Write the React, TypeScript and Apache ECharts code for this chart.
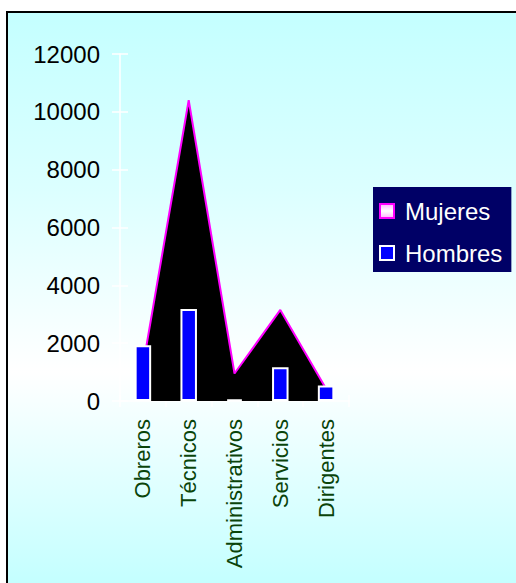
import React, { useEffect, useRef } from "react";
import * as echarts from "echarts";

const categories = ["Obreros", "Técnicos", "Administrativos", "Servicios", "Dirigentes"];
const mujeres = [1200, 10400, 950, 3150, 420];
const hombres = [1930, 3180, 60, 1170, 540];
const yMin = 0;
const yMax = 12000;
const yInterval = 2000;

const FONT = "'Liberation Sans', Arial, sans-serif";

export default function App() {
  const ref = useRef<HTMLDivElement>(null);
  useEffect(() => {
    if (!ref.current) return;
    const chart = echarts.init(ref.current, undefined, { renderer: "svg" });
    const option: any = {
      animation: false,
      backgroundColor: "#ffffff",
      graphic: [
        {
          type: "rect",
          z: -10,
          silent: true,
          shape: { x: 7, y: 12, width: 540, height: 600 },
          style: {
            fill: new echarts.graphic.LinearGradient(0, 0, 0, 1, [
              { offset: 0, color: "#c4ffff" },
              { offset: 0.3, color: "#dcffff" },
              { offset: 0.6, color: "#ffffff" },
              { offset: 0.95, color: "#c4ffff" },
              { offset: 1, color: "#c4ffff" },
            ]),
            stroke: "#000000",
            lineWidth: 2,
          },
        },
      ],
      grid: { left: 120, top: 54, width: 229, height: 347, containLabel: false },
      legend: {
        orient: "vertical",
        left: 373,
        top: 187,
        backgroundColor: "#000066",
        padding: [12, 9, 7, 6],
        itemGap: 18,
        itemWidth: 14,
        itemHeight: 14,
        icon: "rect",
        textStyle: {
          color: "#ffffff",
          fontSize: 24,
          fontFamily: FONT,
          lineHeight: 22,
          padding: [0, 0, 0, 6],
        },
        data: [
          {
            name: "Mujeres",
            itemStyle: {
              color: new echarts.graphic.LinearGradient(0, 0, 0, 1, [
                { offset: 0, color: "#ffb0ff" },
                { offset: 0.5, color: "#ffffff" },
                { offset: 1, color: "#ffb0ff" },
              ]),
              borderColor: "#ff00ff",
              borderWidth: 2,
            },
          },
          {
            name: "Hombres",
            itemStyle: { color: "#0000ff", borderColor: "#ffffff", borderWidth: 2 },
          },
        ],
      },
      xAxis: [
        {
          type: "category",
          data: categories,
          boundaryGap: true,
          axisLine: { show: true, lineStyle: { color: "#ffffff", width: 1.5 } },
          axisTick: { show: true, inside: false, length: 6, interval: 0, lineStyle: { color: "#ffffff", width: 1.5 } },
          axisLabel: {
            rotate: 90,
            interval: 0,
            margin: 18,
            color: "#0a440a",
            fontSize: 22,
            fontFamily: FONT,
          },
          splitLine: { show: false },
        },
        {
          type: "category",
          data: categories,
          position: "bottom",
          boundaryGap: true,
          axisLine: { show: false },
          axisTick: { show: true, inside: true, length: 6, interval: 0, lineStyle: { color: "#ffffff", width: 1.5 } },
          axisLabel: { show: false },
          splitLine: { show: false },
        },
      ],
      yAxis: [
        {
          type: "value",
          min: yMin,
          max: yMax,
          interval: yInterval,
          axisLine: { show: true, lineStyle: { color: "#ffffff", width: 1.5 } },
          axisTick: { show: true, inside: false, length: 8, lineStyle: { color: "#ffffff", width: 1.5 } },
          axisLabel: {
            color: "#000000",
            fontSize: 24,
            fontFamily: FONT,
            margin: 20,
            formatter: (v: number) => String(v),
          },
          splitLine: { show: false },
        },
        {
          type: "value",
          min: yMin,
          max: yMax,
          interval: yInterval,
          position: "left",
          axisLine: { show: false },
          axisTick: { show: true, inside: true, length: 8, lineStyle: { color: "#ffffff", width: 1.5 } },
          axisLabel: { show: false },
          splitLine: { show: false },
        },
      ],
      series: [
        {
          name: "Mujeres",
          type: "line",
          data: mujeres,
          xAxisIndex: 0,
          yAxisIndex: 0,
          symbol: "none",
          z: 2,
          lineStyle: { color: "#ff00ff", width: 2 },
          itemStyle: { color: "#ff00ff" },
          areaStyle: { color: "#000000", opacity: 1 },
        },
        {
          name: "Hombres",
          type: "bar",
          data: hombres,
          xAxisIndex: 0,
          yAxisIndex: 0,
          barWidth: 16.5,
          z: 3,
          itemStyle: { color: "#0000ff", borderColor: "#ffffff", borderWidth: 2 },
        },
      ],
    };
    chart.setOption(option);
    return () => chart.dispose();
  }, []);
  return (
    <div
      ref={ref}
      style={{ position: "absolute", left: 0, top: 0, width: 516, height: 583 }}
    />
  );
}
